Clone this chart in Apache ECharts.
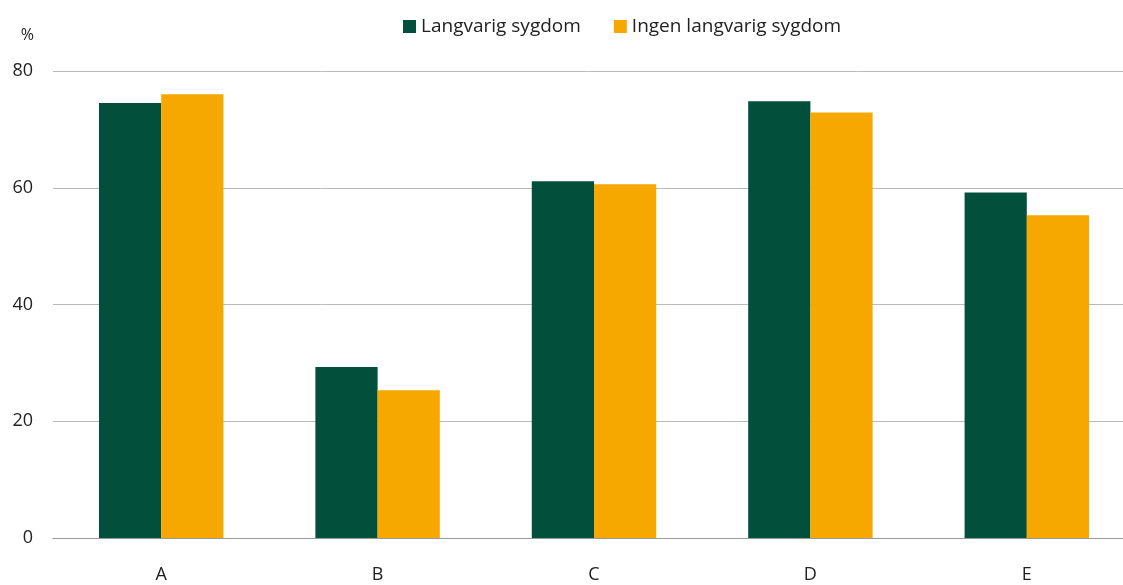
<!DOCTYPE html>
<html>
<head>
<meta charset="utf-8">
<script src="https://cdn.jsdelivr.net/npm/echarts@6/dist/echarts.min.js"></script>
<style>
html,body{margin:0;padding:0;background:#fff;}
#chart{width:1123px;height:585px;}
</style>
</head>
<body>
<div id="chart"></div>
<script>
const categories = ['A', 'B', 'C', 'D', 'E'];
const seriesNames = ['Langvarig sygdom', 'Ingen langvarig sygdom'];
const langvarig = [74.5, 29.3, 61.1, 74.8, 59.2];
const ingenLangvarig = [76.0, 25.3, 60.6, 72.9, 55.3];
const colors = ['#02503C', '#F6A800'];
const font = '"Open Sans", Lato, sans-serif';

const chart = echarts.init(document.getElementById('chart'), null, {renderer: 'canvas'});
chart.setOption({
  animation: false,
  textStyle: {fontFamily: font},
  legend: {
    top: 12,
    left: 398,
    itemWidth: 13,
    itemHeight: 13,
    itemGap: 33,
    icon: 'rect',
    textStyle: {fontSize: 19, color: '#222', fontFamily: font},
    data: seriesNames
  },
  grid: {left: 53, width: 1082, top: 71, bottom: 47, containLabel: false, outerBoundsMode: 'none'},
  xAxis: {
    type: 'category',
    data: categories,
    axisLine: {show: true, lineStyle: {color: '#999', width: 1}},
    axisTick: {show: false},
    axisLabel: {color: '#222', fontSize: 18, margin: 28, fontFamily: font}
  },
  yAxis: {
    type: 'value',
    min: 0, max: 80, interval: 20,
    name: '%',
    nameLocation: 'end',
    nameGap: 28,
    nameTextStyle: {color: '#222', fontSize: 16, align: 'right', padding: [0, 19, 0, 0], fontFamily: font},
    axisLine: {show: false},
    axisTick: {show: false},
    splitLine: {lineStyle: {color: '#bbb', width: 1}},
    axisLabel: {color: '#222', fontSize: 18, margin: 20, fontFamily: font}
  },
  series: [
    {name: seriesNames[0], type: 'bar', data: langvarig, itemStyle: {color: colors[0]}, barGap: '0%', barCategoryGap: '42.5%'},
    {name: seriesNames[1], type: 'bar', data: ingenLangvarig, itemStyle: {color: colors[1]}, barGap: '0%', barCategoryGap: '42.5%'}
  ]
});
</script>
</body>
</html>
